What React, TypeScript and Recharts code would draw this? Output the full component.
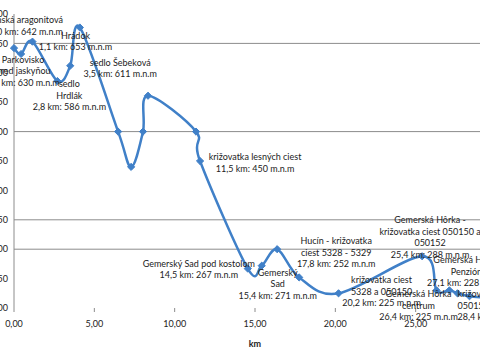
import React from "react";
import {
  LineChart,
  Line,
  XAxis,
  YAxis,
  CartesianGrid,
  LabelList,
} from "recharts";

// route profile: distance from start (km) and altitude (m a.s.l.)
const distanceKm = [
  0, 0.44, 1.15, 2.7, 3.5, 4.1, 6.48, 7.29, 8.03, 8.34, 11.33, 11.58, 14.55,
  15.42, 16.38, 17.75, 20.2, 25.4, 26.3, 27.1, 27.6, 28.35, 29.3,
];
const altitude = [
  642, 632, 653, 586, 612, 677, 500, 440, 500, 561, 500, 450, 267, 272, 300,
  252, 225, 288, 230, 230, 225, 220, 218,
];

const stopLabels: string[][] = [
  ["Ochtinská aragonitová", "0 km: 642 m.n.m"],
  ["Parkovisko", "pred jaskyňou", "0,4 km: 630 m.n.m"],
  ["Hrádok", "1,1 km: 653 m.n.m"],
  ["sedlo", "Hrdlák", "2,8 km: 586 m.n.m"],
  ["sedlo Šebeková", "3,5 km: 611 m.n.m"],
  [],
  [],
  [],
  [],
  [],
  [],
  ["križovatka lesných ciest", "11,5 km: 450 m.n.m"],
  ["Gemerský Sad  pod kostolom", "14,5 km: 267 m.n.m"],
  ["Gemerský", "Sad", "15,4 km: 271 m.n.m"],
  [],
  ["Hucín - križovatka", "ciest 5328 - 5329", "17,8 km: 252 m.n.m"],
  ["križovatka ciest", "5328 a 050150", "20,2 km: 225 m.n.m"],
  ["Gemerská Hôrka -", "križovatka ciest 050150 a", "050152", "25,4 km: 288 m.n.m"],
  ["Gemerská Hôrka", "centrum", "26,4 km: 225 m.n.m"],
  ["Gemerská Hôrka", "Penzión", "27,1 km: 228 m.n.m"],
  [],
  ["križovanie ciest", "050152 a 050153", "28,4 km: 220 m.n.m"],
  [],
];

// where each label sits relative to its point
const labelPlacement: { dx: number; dy: number; anchor: "start" | "middle" | "end" }[] = [
  { dx: 49, dy: -25, anchor: "end" },
  { dx: 2, dy: 9, anchor: "middle" },
  { dx: 43, dy: -3, anchor: "middle" },
  { dx: 12, dy: 6, anchor: "middle" },
  { dx: 50, dy: 0, anchor: "middle" },
  { dx: 0, dy: 0, anchor: "middle" },
  { dx: 0, dy: 0, anchor: "middle" },
  { dx: 0, dy: 0, anchor: "middle" },
  { dx: 0, dy: 0, anchor: "middle" },
  { dx: 0, dy: 0, anchor: "middle" },
  { dx: 0, dy: 0, anchor: "middle" },
  { dx: 55, dy: -1, anchor: "middle" },
  { dx: -49, dy: -2, anchor: "middle" },
  { dx: 16, dy: 10, anchor: "middle" },
  { dx: 0, dy: 0, anchor: "middle" },
  { dx: 37, dy: -33, anchor: "middle" },
  { dx: 43, dy: -10, anchor: "middle" },
  { dx: 8, dy: -33, anchor: "middle" },
  { dx: -18, dy: 7, anchor: "middle" },
  { dx: 17, dy: -27, anchor: "middle" },
  { dx: 0, dy: 0, anchor: "middle" },
  { dx: -12, dy: 1, anchor: "start" },
  { dx: 0, dy: 0, anchor: "middle" },
];

const kmTicks = [0, 5, 10, 15, 20, 25, 30];
const altitudeTicks = [200, 250, 300, 350, 400, 450, 500, 550, 600, 650, 700];
const gridAltitudes = [300, 350, 500, 650];

const rows = distanceKm.map((km, i) => ({ km, alt: altitude[i] }));

const FONT = "Lato, 'Liberation Sans', sans-serif";
const BLUE = "#4080c8";
const INK = "#222222";
const LINE_GAP = 11.5;

// Excel-like smoothed line (bezier through every point)
const excelSmooth = (context: any) => {
  let pts: [number, number][] = [];
  return {
    areaStart() {},
    areaEnd() {},
    lineStart() {
      pts = [];
    },
    point(x: number, y: number) {
      pts.push([+x, +y]);
    },
    lineEnd() {
      const n = pts.length;
      if (!n) return;
      context.moveTo(pts[0][0], pts[0][1]);
      for (let i = 0; i < n - 1; i++) {
        const p0 = pts[i === 0 ? 0 : i - 1];
        const p1 = pts[i];
        const p2 = pts[i + 1];
        const p3 = pts[i + 2 < n ? i + 2 : n - 1];
        context.bezierCurveTo(
          p1[0] + (p2[0] - p0[0]) / 6,
          p1[1] + (p2[1] - p0[1]) / 6,
          p2[0] - (p3[0] - p1[0]) / 6,
          p2[1] - (p3[1] - p1[1]) / 6,
          p2[0],
          p2[1]
        );
      }
    },
  };
};

const renderDiamond = (props: any) => {
  const { cx, cy, index } = props;
  if (cx == null || cy == null) return <g key={`d-${index}`} />;
  const r = 3.6;
  return (
    <path
      key={`d-${index}`}
      d={`M${cx},${cy - r}L${cx + r},${cy}L${cx},${cy + r}L${cx - r},${cy}Z`}
      fill={BLUE}
      stroke={BLUE}
      strokeWidth={1}
    />
  );
};

const renderStopLabel = (props: any) => {
  const { index } = props;
  const px = props.x ?? props.viewBox?.x;
  const py = props.y ?? props.viewBox?.y;
  const lines = stopLabels[index];
  if (!lines || !lines.length || px == null || py == null) return null;
  const place = labelPlacement[index];
  const tx = px + place.dx;
  return (
    <text
      key={`l-${index}`}
      x={tx}
      y={py + place.dy}
      textAnchor={place.anchor}
      fontSize={9}
      fontFamily={FONT}
      fill={INK}
    >
      {lines.map((line, k) => (
        <tspan key={k} x={tx} dy={k === 0 ? 0 : LINE_GAP}>
          {line}
        </tspan>
      ))}
    </text>
  );
};

const fmtKm = (v: number) => v.toFixed(2).replace(".", ",");

export default function App() {
  return (
    <div
      style={{
        position: "fixed",
        left: 0,
        top: 0,
        width: 480,
        height: 360,
        overflow: "hidden",
        background: "#ffffff",
      }}
    >
      <div style={{ position: "absolute", left: -26, top: 0 }}>
        <LineChart
          width={532}
          height={360}
          data={rows}
          margin={{ top: 14, right: 10, left: 0, bottom: 0 }}
        >
          <CartesianGrid
            vertical={false}
            horizontalValues={gridAltitudes}
            stroke="#8c8c8c"
          />
          <XAxis
            dataKey="km"
            type="number"
            domain={[0, 30]}
            ticks={kmTicks}
            tickFormatter={fmtKm}
            axisLine={false}
            tickLine={{ stroke: "#8c8c8c" }}
            tickSize={4}
            tickMargin={9}
            height={52}
            tick={{ fontSize: 9, fill: INK, fontFamily: FONT }}
            label={{
              value: "km",
              position: "insideBottom",
              offset: 13,
              fontSize: 9,
              fontWeight: 700,
              fill: INK,
              fontFamily: FONT,
            }}
          />
          <YAxis
            type="number"
            domain={[200, 700]}
            ticks={altitudeTicks}
            width={40}
            axisLine={{ stroke: "#8c8c8c" }}
            tickLine={false}
            tickSize={4}
            tickMargin={2}
            tick={{ fontSize: 9, fill: INK, fontFamily: FONT }}
          />
          <Line
            dataKey="alt"
            type={excelSmooth as any}
            stroke={BLUE}
            strokeWidth={2.5}
            dot={renderDiamond}
            activeDot={false}
            isAnimationActive={false}
          >
            <LabelList dataKey="alt" content={renderStopLabel} />
          </Line>
        </LineChart>
      </div>
    </div>
  );
}
